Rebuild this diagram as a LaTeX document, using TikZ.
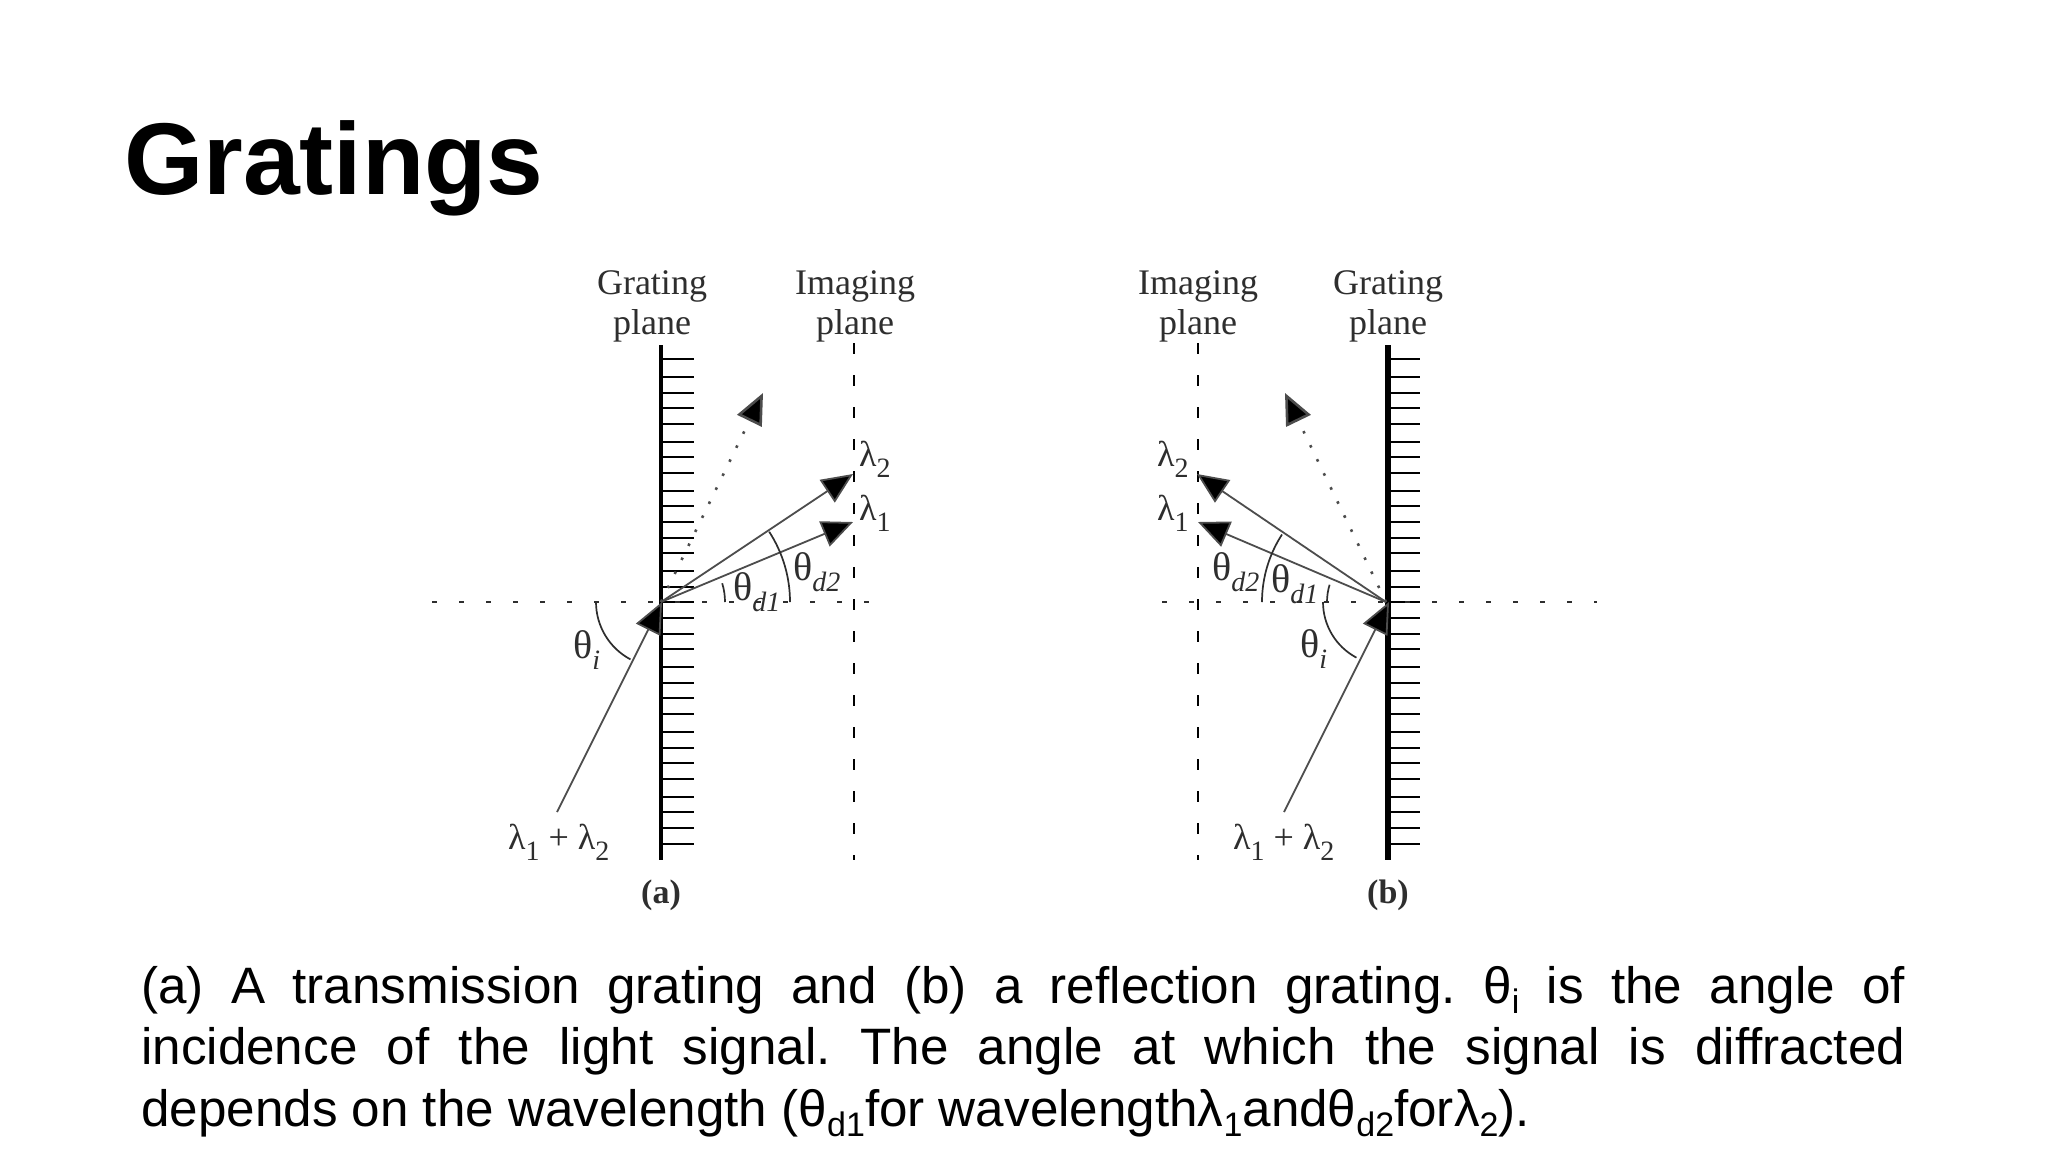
\documentclass[tikz,border=0pt]{standalone}
\usepackage{fontspec}
\setmainfont{Liberation Serif}
\newfontfamily\capfont{Liberation Sans}
\usetikzlibrary{arrows.meta}
\definecolor{ink}{HTML}{2E2E2E}
\newcommand{\lowsub}[1]{\raisebox{-11pt}{\fontsize{28}{28}\selectfont #1}}
\newcommand{\capsub}[1]{\raisebox{-10pt}{\fontsize{34}{34}\selectfont #1}}
\newcommand{\bigth}{{\fontsize{40}{40}\selectfont θ}}
\tikzset{
  lbl/.style={font=\fontsize{36}{40}\selectfont, text=ink, inner sep=0pt, anchor=base west},
  head/.style={font=\fontsize{36}{40}\selectfont, text=ink, inner sep=0pt, anchor=base},
  tag/.style={font=\fontsize{34}{40}\selectfont\bfseries, text=ink, inner sep=0pt, anchor=base},
  ray/.style={draw=ink!85, line width=1.8pt, -{Triangle[length=31pt,width=27pt,fill=black]}},
  dotray/.style={ray, draw=black!70, line width=2.6pt, dash pattern=on 2.6pt off 13pt},
  axis/.style={draw=ink, line width=2pt, dash pattern=on 5pt off 22pt},
  imgplane/.style={draw=black, line width=2pt, dash pattern=on 11pt off 21pt},
  tick/.style={draw=black, line width=1.9pt},
  anglearc/.style={draw=ink, line width=1.7pt},
}
\begin{document}
\begin{tikzpicture}[x=1pt,y=-1pt]
\useasboundingbox[fill=white] (0,0) rectangle (2048,1152);
\node[anchor=base west, inner sep=0pt, font=\fontsize{102}{110}\selectfont\capfont\bfseries] (title) at (124,194) {Gratings};

% ---------- (a)
\coordinate (aO) at (661,602);
\coordinate (aTop) at (661,345); \coordinate (aBot) at (661,860);
\draw[draw=black, line width=4pt] (aTop) -- (aBot);
\foreach \yy in {359,377,393,408,424,442,457,473,491,506,522,538,553,571,587,602,618,634,649,667,683,698,714,732,748,763,779,797,812,828,844}
  \draw[tick] (661,\yy) -- (694,\yy);
\coordinate (aL) at (432,602); \coordinate (aR) at (870,602);
\draw[axis] (aL) -- (aR);
\coordinate (aImT) at (854,343); \coordinate (aImB) at (854,860);
\draw[imgplane] (aImT) -- (aImB);
\coordinate (aT2) at (853,474); \coordinate (aT1) at (853,522);
\coordinate (aDot) at (763,393); \coordinate (aIn) at (557,812); \coordinate (aHit) at (662,602);
\draw[ray] (aO) -- (aT2);
\draw[ray] (aO) -- (aT1);
\draw[dotray] (aO) -- (aDot);
\draw[ray] (aIn) -- (aHit);
\draw[anglearc] (596,602) arc[start angle=180, end angle=242, radius=65pt];
\draw[anglearc] (725,602) arc[start angle=0, end angle=17, radius=64pt];
\draw[anglearc] (790,602) arc[start angle=0, end angle=33, radius=129pt];

\node[head] (aG1) at (652,294) {Grating};
\node[head] (aG2) at (652,334) {plane};
\node[head] (aI1) at (855,294) {Imaging};
\node[head] (aI2) at (855,334) {plane};
\node[lbl] (aL2) at (859,466) {λ\lowsub{2}};
\node[lbl] (aL1) at (859,520) {λ\lowsub{1}};
\node[lbl] (aTd2) at (793,580) {\bigth\lowsub{\itshape d2}};
\node[lbl] (aTd1) at (733,600) {\bigth\lowsub{\itshape d1}};
\node[lbl] (aTi) at (573,658) {\bigth\lowsub{\itshape i}};
\node[lbl] (aSum) at (508,849) {λ\lowsub{1} + λ\lowsub{2}};
\node[tag] (aTag) at (661,903) {(a)};

% ---------- (b)
\coordinate (bO) at (1386,602);
\coordinate (bTop) at (1388,345); \coordinate (bBot) at (1388,860);
\draw[draw=black, line width=6pt] (bTop) -- (bBot);
\foreach \yy in {359,377,393,408,424,442,457,473,491,506,522,538,553,571,587,602,618,634,649,667,683,698,714,732,748,763,779,797,812,828,844}
  \draw[tick] (1388,\yy) -- (1420,\yy);
\coordinate (bL) at (1162,602); \coordinate (bR) at (1597,602);
\draw[axis] (bL) -- (bR);
\coordinate (bImT) at (1198,343); \coordinate (bImB) at (1198,860);
\draw[imgplane] (bImT) -- (bImB);
\coordinate (bT2) at (1197,474); \coordinate (bT1) at (1198,522);
\coordinate (bDot) at (1285,393); \coordinate (bIn) at (1284,812); \coordinate (bHit) at (1389,602);
\draw[ray] (bO) -- (bT2);
\draw[ray] (bO) -- (bT1);
\draw[dotray] (bO) -- (bDot);
\draw[ray] (bIn) -- (bHit);
\draw[anglearc] (1323,602) arc[start angle=180, end angle=242, radius=63pt];
\draw[anglearc] (1327,602) arc[start angle=180, end angle=163, radius=59pt];
\draw[anglearc] (1262,602) arc[start angle=180, end angle=147, radius=124pt];

\node[head] (bI1) at (1198,294) {Imaging};
\node[head] (bI2) at (1198,334) {plane};
\node[head] (bG1) at (1388,294) {Grating};
\node[head] (bG2) at (1388,334) {plane};
\node[lbl] (bL2) at (1157,466) {λ\lowsub{2}};
\node[lbl] (bL1) at (1157,520) {λ\lowsub{1}};
\node[lbl] (bTd2) at (1212,580) {\bigth\lowsub{\itshape d2}};
\node[lbl] (bTd1) at (1271,592) {\bigth\lowsub{\itshape d1}};
\node[lbl] (bTi) at (1300,657) {\bigth\lowsub{\itshape i}};
\node[lbl] (bSum) at (1233,849) {λ\lowsub{1} + λ\lowsub{2}};
\node[tag] (bTag) at (1388,903) {(b)};

% ---------- caption
\node[anchor=base west, inner sep=0pt, text width=1764pt, align=justify,
      font=\fontsize{51.2}{61.5}\selectfont\capfont\frenchspacing] (caption) at (141,1003)
{(a) A transmission grating and (b) a reflection grating. θ\capsub{i} is the angle of\linebreak
incidence of the light signal. The angle at which the signal is diffracted\linebreak
depends on the wavelength (θ\capsub{d1}for wavelengthλ\capsub{1}andθ\capsub{d2}forλ\capsub{2}).};
\end{tikzpicture}
\end{document}
